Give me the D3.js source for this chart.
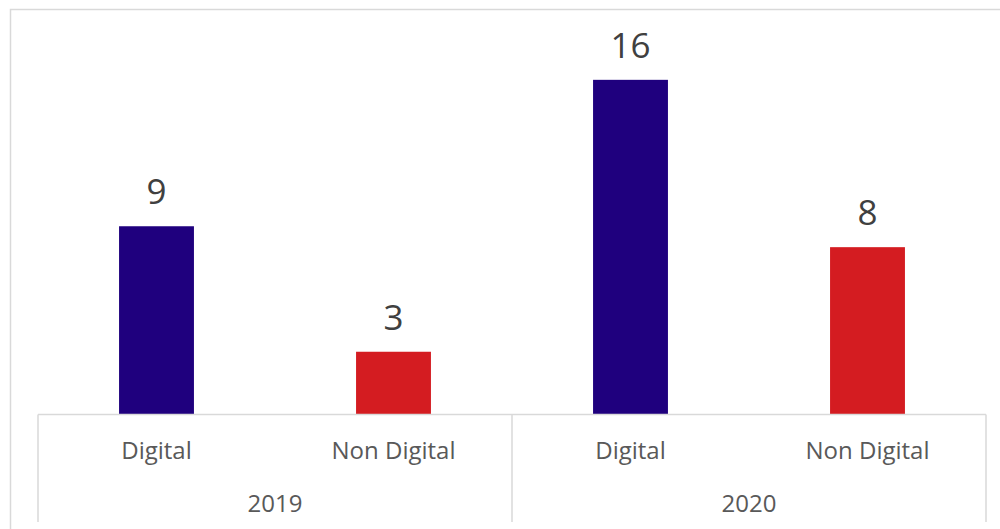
<!DOCTYPE html>
<html>
<head>
<meta charset="utf-8">
<script src="https://cdn.jsdelivr.net/npm/d3@7"></script>
<style>
  html, body { margin: 0; padding: 0; background: #fff; }
  svg { display: block; }
</style>
</head>
<body>
<svg id="chart" width="1000" height="529"></svg>
<script>
// Projects by type, grouped by year
const years = ["2019", "2020"];
const types = ["Digital", "Non Digital"];
const values2019 = [9, 3];
const values2020 = [16, 8];
const colors = ["#1F007E", "#D41C21"];

const rows = [];
years.forEach((yr, gi) => {
  const vals = gi === 0 ? values2019 : values2020;
  types.forEach((t, ti) => rows.push({ year: yr, type: t, value: vals[ti], ti, key: yr + "|" + t }));
});

const svg = d3.select("#chart");
const plotLeft = 38, plotRight = 986, baseline = 414.5, plotTop = 38;
const font = "'Open Sans', 'Noto Sans', sans-serif";

// chart frame
svg.append("path")
  .attr("d", "M10.5,529 V9.5 H1000")
  .attr("fill", "none").attr("stroke", "#d9d9d9").attr("stroke-width", 1.5);

const x = d3.scaleBand().domain(rows.map(d => d.key)).range([plotLeft, plotRight]).padding(0);
const xYear = d3.scaleBand().domain(years).range([plotLeft, plotRight]).padding(0);
const y = d3.scaleLinear().domain([0, 18]).range([baseline, plotTop]);
const barW = x.bandwidth() * 0.316;

// bars
svg.selectAll("rect.bar").data(rows).join("rect")
  .attr("class", "bar")
  .attr("x", d => x(d.key) + (x.bandwidth() - barW) / 2)
  .attr("width", barW)
  .attr("y", d => y(d.value))
  .attr("height", d => y(0) - y(d.value))
  .attr("fill", d => colors[d.ti]);

// value labels
svg.selectAll("text.val").data(rows).join("text")
  .attr("class", "val")
  .attr("x", d => x(d.key) + x.bandwidth() / 2)
  .attr("y", d => y(d.value) - 22)
  .attr("text-anchor", "middle")
  .attr("font-family", font).attr("font-size", 35)
  .attr("fill", "#404040")
  .text(d => d.value);

// category axis: baseline and group dividers
const axis = svg.append("g").attr("stroke", "#d9d9d9").attr("stroke-width", 1.5);
axis.append("line").attr("x1", plotLeft).attr("x2", plotRight).attr("y1", baseline).attr("y2", baseline);
const dividers = years.map(yr => xYear(yr)).concat([plotRight]);
axis.selectAll("line.div").data(dividers).join("line")
  .attr("class", "div")
  .attr("x1", d => d).attr("x2", d => d)
  .attr("y1", baseline).attr("y2", 522);

// type labels
svg.selectAll("text.type").data(rows).join("text")
  .attr("class", "type")
  .attr("x", d => x(d.key) + x.bandwidth() / 2)
  .attr("y", 459)
  .attr("text-anchor", "middle")
  .attr("font-family", font).attr("font-size", 24)
  .attr("fill", "#595959")
  .text(d => d.type);

// year labels
svg.selectAll("text.year").data(years).join("text")
  .attr("class", "year")
  .attr("x", d => xYear(d) + xYear.bandwidth() / 2)
  .attr("y", 512)
  .attr("text-anchor", "middle")
  .attr("font-family", font).attr("font-size", 24)
  .attr("fill", "#595959")
  .text(d => d);
</script>
</body>
</html>
